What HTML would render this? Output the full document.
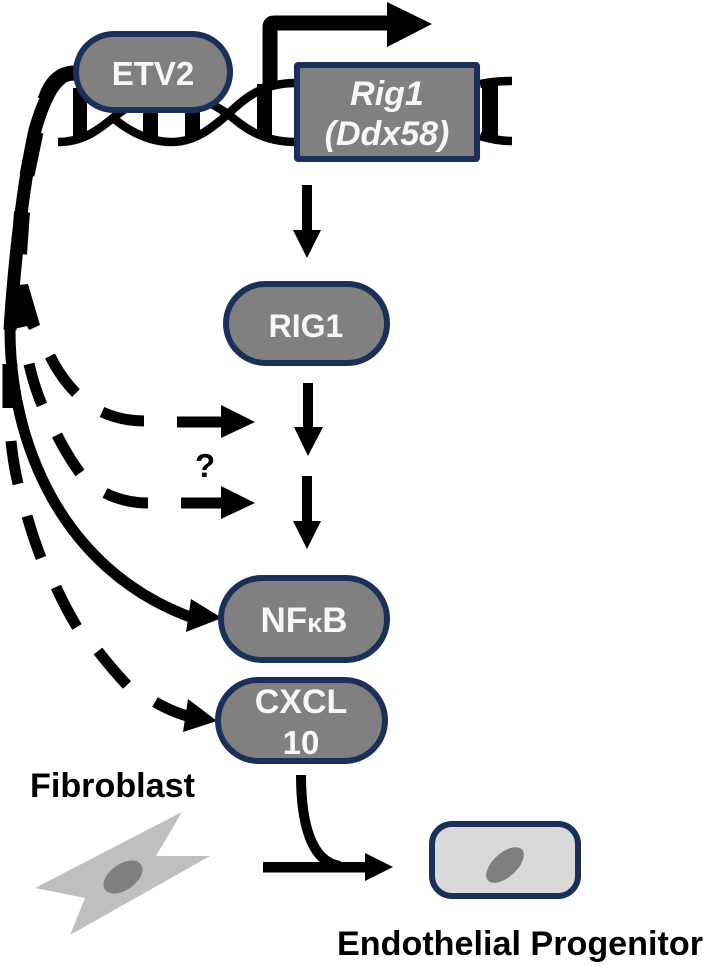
<!DOCTYPE html>
<html>
<head>
<meta charset="utf-8">
<style>
html,body{margin:0;padding:0;background:#fff;width:707px;height:966px;overflow:hidden}
svg{display:block}
text{font-family:"Liberation Sans",Arial,sans-serif;font-weight:bold}
.w{fill:#f7f7f7;text-anchor:middle;font-size:33px}
.node{fill:#808080;stroke:#1a3059;stroke-width:6}
</style>
</head>
<body>
<svg width="707" height="966" viewBox="0 0 707 966" xmlns="http://www.w3.org/2000/svg">
<!-- DNA -->
<g fill="none" stroke="#000" stroke-width="8.5">
<path d="M58 142 C85 142 100 128 113 118 C130 104 150 92 172 90 C195 92 212 104 228 114 C245 128 262 142 296 142"/>
<path d="M113 118 C130 132 150 142 172 142 C195 142 212 128 228 114 C245 98 262 83 296 83"/>
<path d="M480 84 C490 82 500 81 512 81"/>
<path d="M480 136 C490 139 500 141 512 141"/>
</g>
<g fill="#000">
<rect x="73" y="88" width="14" height="50"/>
<rect x="143" y="100" width="15" height="38"/>
<rect x="185" y="100" width="15" height="38"/>
<rect x="257" y="84" width="15" height="54"/>
<rect x="482" y="84" width="16" height="54"/>
</g>
<!-- promoter arrow -->
<path d="M270 84 V27 Q270 23 274 23 H390" fill="none" stroke="#000" stroke-width="15"/>
<polygon points="387,2 432,24 387,47" fill="#000"/>
<!-- left bundle -->
<g fill="none" stroke="#000">
<path d="M78 72 C58 72 46 92 35 130 C25 175 15 250 10 330" stroke-width="13"/>
<path d="M75 73 C58 73 50 85 45 100" stroke-width="15"/>
<path d="M36 132 L27 175" stroke-width="15"/>
<path d="M22 212 L19 254" stroke-width="16"/>
<path d="M10 330 C10 440 60 570 193 618" stroke-width="11"/>
<path d="M10 364 V408" stroke-width="15"/>
</g>
<polygon points="18,285 28,284 40,325 29,330 27,326 5,331" fill="#000"/>
<polygon points="191,599 186,632 222,618" fill="#000"/>
<!-- dashed paths -->
<g fill="none" stroke="#000" stroke-width="11">
<path d="M50 356 Q61 378 76 393"/>
<path d="M102 412 Q122 421 144 421"/>
<path d="M177 422 H225"/>
<path d="M29 364 Q34 386 42 405"/>
<path d="M57 435 Q67 455 80 473"/>
<path d="M105 493 Q125 503 148 503"/>
<path d="M181 503 H225"/>
<path d="M11 441 Q13 462 18 484"/>
<path d="M27 516 Q33 537 41 558"/>
<path d="M56 587 Q65 607 77 627"/>
<path d="M98 651 Q112 669 127 685"/>
<path d="M155 702 Q170 711 190 717"/>
</g>
<polygon points="221,405 255,422 221,438" fill="#000"/>
<polygon points="221,486 255,503 221,519" fill="#000"/>
<polygon points="188,699 183,732 217,721" fill="#000"/>
<!-- vertical arrows -->
<g fill="#000">
<rect x="302" y="185" width="10" height="46"/>
<polygon points="293,230 321,230 307,258"/>
<rect x="303" y="383" width="10" height="45"/>
<polygon points="294,427 323,427 308,456"/>
<rect x="302" y="476" width="10" height="46"/>
<polygon points="293,521 321,521 307,549"/>
</g>
<!-- nodes -->
<rect class="node" x="76" y="34" width="154" height="76" rx="38"/>
<rect class="node" x="297" y="65" width="180" height="94" rx="1"/>
<rect class="node" x="226" y="284" width="161" height="79" rx="39.5"/>
<rect class="node" x="221" y="578" width="166" height="82" rx="41"/>
<rect class="node" x="218" y="680" width="167" height="81" rx="40.5"/>
<text class="w" x="153" y="85">ETV2</text>
<text class="w" x="387" y="105" style="font-style:italic;font-size:34px">Rig1</text>
<text class="w" x="387" y="145" style="font-style:italic;font-size:34px">(Ddx58)</text>
<text class="w" x="306" y="337" style="font-size:32px">RIG1</text>
<text class="w" x="304" y="632" style="font-size:35px">NF<tspan font-size="27">κ</tspan>B</text>
<text class="w" x="301" y="713" style="font-size:34px">CXCL</text>
<text class="w" x="301" y="754" style="font-size:33px">10</text>
<text x="195" y="477" font-size="33" fill="#000">?</text>
<!-- bottom -->
<text x="30" y="797" font-size="34" fill="#000" textLength="165" lengthAdjust="spacingAndGlyphs">Fibroblast</text>
<polygon points="182,812 156,856 210,856 70,935 85,898 35,888" fill="#bfbfbf"/>
<ellipse cx="123" cy="877" rx="22" ry="13" transform="rotate(-35 123 877)" fill="#7f7f7f"/>
<path d="M301 775 C301 820 310 862 340 866" fill="none" stroke="#000" stroke-width="10"/>
<rect x="263" y="862" width="104" height="10.5" fill="#000"/>
<polygon points="365,853 393,867 365,881" fill="#000"/>
<rect x="432" y="824" width="146" height="72" rx="20" fill="#d9d9d9" stroke="#1a3059" stroke-width="6"/>
<ellipse cx="505" cy="865" rx="23" ry="12" transform="rotate(-42 505 865)" fill="#7f7f7f"/>
<text x="337" y="955" font-size="34" fill="#000" textLength="366" lengthAdjust="spacingAndGlyphs">Endothelial Progenitor</text>
</svg>
</body>
</html>
